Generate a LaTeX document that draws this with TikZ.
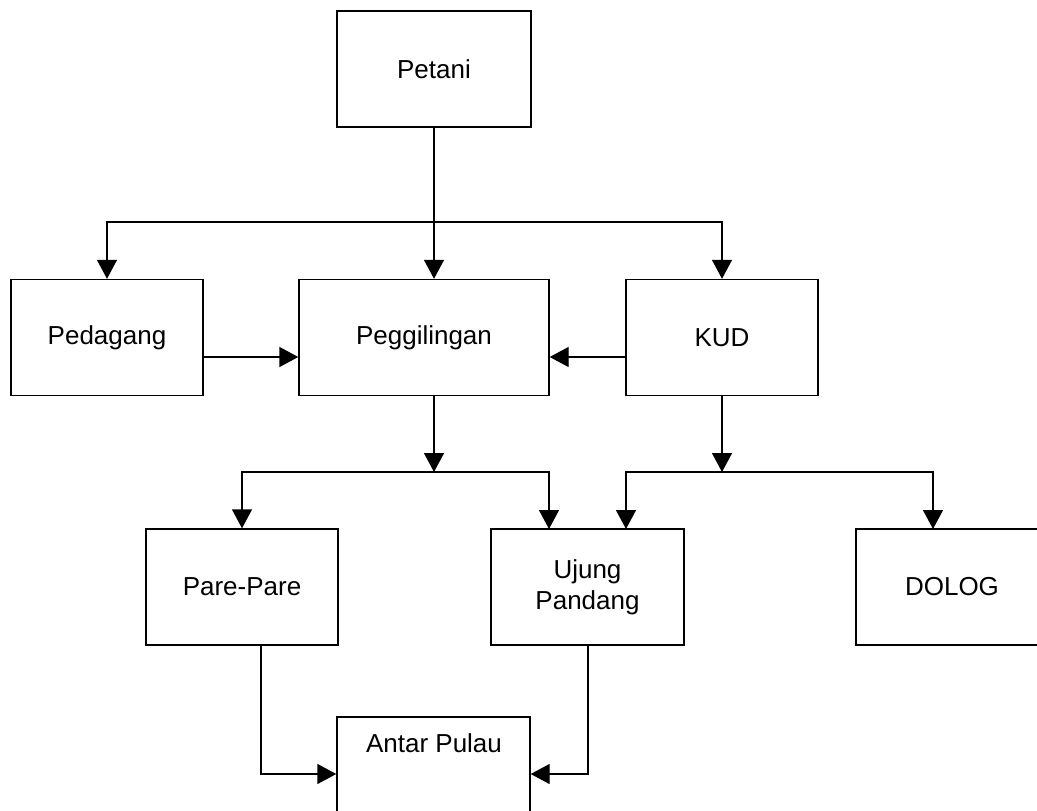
\documentclass[tikz,border=0pt]{standalone}
\usepackage{fontspec}
\setmainfont{Liberation Sans}
\usetikzlibrary{arrows.meta}
\begin{document}
\begin{tikzpicture}[x=1pt,y=-1pt,
  box/.style={draw, line width=1.4pt, minimum width=192pt, minimum height=116pt, inner sep=0pt, align=center,
    font=\fontsize{26}{31}\selectfont},
  txt/.style={inner sep=0pt, font=\fontsize{26}{31}\selectfont},
  conn/.style={line width=1.4pt},
  arr/.style={line width=1.4pt, -{Triangle[length=19pt,width=20pt]}}]
\useasboundingbox (0,0) rectangle (1037,811);
\clip (0,0) rectangle (1037,811);
% boxes
\node[box, minimum width=194pt] (petani) at (434,69) {Petani};
\node[box] (pedagang) at (107,337.5) {Pedagang};
\node[box, minimum width=250pt] (pegg) at (424,337.5) {Peggilingan};
\node[box] (kud) at (722,337.5) {KUD};
\node[box] (pare) at (242,587) {Pare-Pare};
\node[box, minimum width=193pt] (ujung) at (587.5,587) {Ujung\\Pandang};
\node[box] (dolog) at (952,587) {DOLOG};
\node[box, minimum width=193pt] (antar) at (433.5,775) {};
\node[txt] (antartxt) at (434,743) {Antar Pulau};
% coordinates
\coordinate (b1) at (434,222);
\coordinate (pb) at (434,472);
\coordinate (kb) at (722,472);
\coordinate (ay) at (0,357);
\coordinate (ppu) at (549,529);
\coordinate (kpu) at (626,529);
\coordinate (dd) at (933,529);
\coordinate (c1) at (261,774);
\coordinate (c2) at (588,774);
% connectors
\draw[arr] (petani.south) -- (petani.south |- pegg.north);
\draw[arr] (b1) -| (pedagang.north);
\draw[arr] (b1) -| (kud.north);
\draw[arr] (pedagang.east |- ay) -- (pegg.west |- ay);
\draw[arr] (kud.west |- ay) -- (pegg.east |- ay);
\draw[arr] (pb |- pegg.south) -- (pb);
\draw[arr] (pb) -| (pare.north);
\draw[arr] (pb) -| (ppu);
\draw[arr] (kud.south) -- (kb);
\draw[arr] (kb) -| (kpu);
\draw[arr] (kb) -| (dd);
\draw[arr] (c1 |- pare.south) -- (c1) -- (antar.west |- c1);
\draw[arr] (c2 |- ujung.south) -- (c2) -- (antar.east |- c2);
\end{tikzpicture}
\end{document}
